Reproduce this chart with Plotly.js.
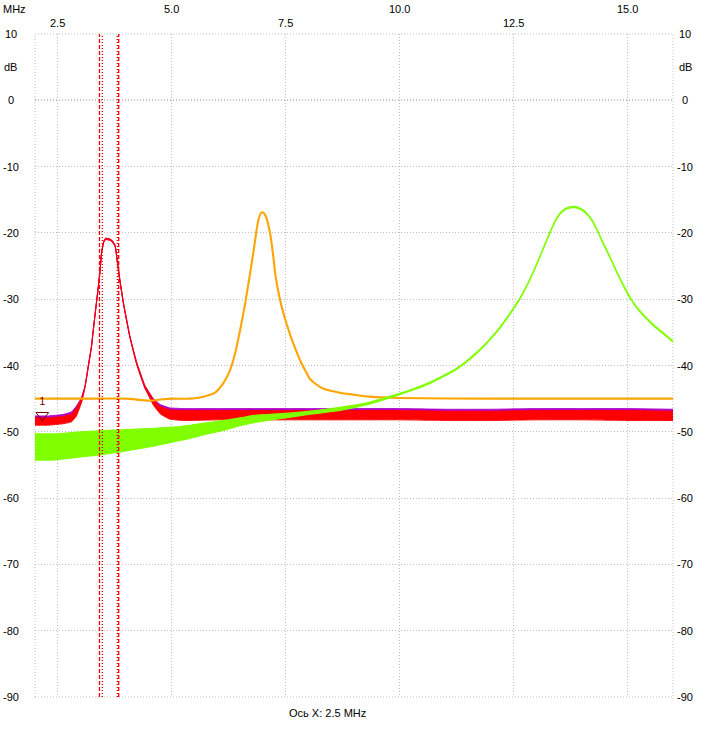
<!DOCTYPE html>
<html>
<head>
<meta charset="utf-8">
<script src="https://cdn.plot.ly/plotly-3.0.1.min.js"></script>
<style>html,body{margin:0;padding:0;background:#fff;}#chart{width:708px;height:732px;}</style>
</head>
<body>
<div id="chart"></div>
<script>
// ---- data ----
const xTicks = [2.5, 5.0, 7.5, 10.0, 12.5, 15.0];
const xTickLabels = ["2.5", "5.0", "7.5", "10.0", "12.5", "15.0"];
const yTicks = [10, 0, -10, -20, -30, -40, -50, -60, -70, -80, -90];
const yTickLabels = ["10", "0", "-10", "-20", "-30", "-40", "-50", "-60", "-70", "-80", "-90"];
const xUnit = "MHz";
const yUnit = "dB";
const xAxisNote = "Ось X: 2.5 MHz";

const redF  = [2.0,2.3,2.6,2.8,2.91,3.02,3.10,3.17,3.24,3.28,3.33,3.39,3.43,3.46,3.51,3.55,3.64,3.70,3.76,3.81,3.83,3.87,3.94,4.08,4.23,4.41,4.60,4.75,4.96,5.3,6,7,8,9,10,11,12,13,14,15,16];
const redHi = [-47.9,-47.9,-47.7,-47.3,-46.4,-44.9,-43.0,-40.0,-37.0,-34.5,-31.5,-28.0,-25.4,-22.9,-21.2,-20.8,-20.9,-21.2,-21.9,-24.4,-25.4,-27.4,-30.5,-35.5,-39.5,-43.0,-45.2,-46.2,-46.7,-46.8,-46.8,-46.8,-46.8,-46.8,-46.8,-46.9,-46.9,-46.8,-46.8,-46.8,-46.9];
const redLo = [-49.0,-49.0,-48.8,-48.5,-47.6,-45.6,-43.2,-40.2,-37.2,-34.7,-31.7,-28.2,-25.6,-23.1,-21.4,-21.0,-21.1,-21.4,-22.1,-24.6,-25.6,-27.6,-30.7,-35.7,-39.8,-43.4,-46.0,-47.3,-48.1,-48.3,-48.2,-48.2,-48.2,-48.2,-48.2,-48.3,-48.3,-48.2,-48.2,-48.3,-48.3];

const magHi = [-47.6,-47.6,-47.4,-47.0,-46.1,-44.9,-43.0,-40.0,-37.0,-34.5,-31.5,-28.0,-25.4,-22.9,-21.2,-20.8,-20.9,-21.2,-21.9,-24.4,-25.4,-27.4,-30.5,-35.5,-39.5,-43.0,-45.0,-45.9,-46.4,-46.5,-46.5,-46.5,-46.5,-46.5,-46.5,-46.6,-46.6,-46.5,-46.5,-46.5,-46.6];
const magLo = [-48.4,-48.4,-48.2,-47.9,-47.0,-45.5,-43.2,-40.2,-37.2,-34.7,-31.7,-28.2,-25.6,-23.1,-21.4,-21.0,-21.1,-21.4,-22.1,-24.6,-25.6,-27.6,-30.7,-35.7,-39.8,-43.4,-45.6,-46.8,-47.3,-47.4,-47.4,-47.4,-47.4,-47.4,-47.4,-47.5,-47.5,-47.4,-47.4,-47.5,-47.5];

const orangeF = [2.0,3.0,4.0,4.5,4.8,5.0,5.4,5.7,5.95,6.13,6.28,6.39,6.5,6.61,6.72,6.81,6.9,6.97,7.02,7.07,7.16,7.23,7.27,7.38,7.52,7.67,7.85,7.95,8.03,8.18,8.33,8.69,9.0,9.35,10.0,12.0,16.0];
const orangeY = [-45.0,-45.0,-45.0,-45.3,-45.1,-45.0,-45.0,-44.7,-44.1,-42.7,-40.7,-38.2,-34.7,-30.7,-26.1,-22.1,-18.1,-16.9,-17.0,-17.6,-20.1,-23.6,-26.1,-30.2,-33.7,-36.7,-39.7,-41.0,-42.0,-42.9,-43.5,-44.1,-44.4,-44.7,-44.9,-45.0,-45.0];

const greenF  = [2.0,2.5,3.0,3.5,3.9,4.5,5.18,5.4,5.8,6.13,6.5,6.83,7.5,8.0,8.69,9.35,10.0,10.3,10.67,10.96,11.25,11.47,11.69,11.91,12.13,12.35,12.5,12.64,12.79,12.94,13.01,13.12,13.23,13.34,13.45,13.56,13.67,13.85,14.0,14.11,14.22,14.33,14.47,14.62,14.76,14.91,15.06,15.2,15.38,15.57,15.78,16.0];
const greenHi = [-50.3,-50.3,-50.0,-49.8,-49.7,-49.5,-49.2,-49.0,-48.6,-48.3,-47.9,-47.5,-47.2,-46.9,-46.3,-45.5,-44.2,-43.5,-42.5,-41.5,-40.4,-39.3,-38.0,-36.5,-34.8,-32.8,-31.3,-29.8,-27.9,-25.7,-24.6,-22.8,-21.0,-19.2,-17.7,-16.7,-16.2,-16.0,-16.4,-17.0,-18.0,-19.4,-21.5,-23.6,-25.7,-27.8,-29.7,-31.1,-32.5,-33.8,-35.0,-36.3];
const greenLo = [-54.3,-54.2,-53.8,-53.4,-53.0,-52.3,-51.3,-51.0,-50.3,-49.8,-49.1,-48.6,-47.9,-47.4,-46.8,-45.8,-44.4,-43.7,-42.7,-41.7,-40.6,-39.5,-38.2,-36.7,-35.0,-33.0,-31.5,-30.0,-28.1,-25.9,-24.8,-23.0,-21.2,-19.4,-17.9,-16.9,-16.4,-16.2,-16.6,-17.2,-18.2,-19.6,-21.7,-23.8,-25.9,-28.0,-29.9,-31.3,-32.7,-34.0,-35.2,-36.5];

const cursorF = [3.415, 3.477, 3.806, 3.837];
const cursorDash = ["dash", "dot", "dot", "dash"];

const markerF = [2.16];
const markerY = [-47.5];
const markerLabel = ["1"];

// ---- drawing ----
const FONT = {family: "Liberation Sans, Arial, sans-serif", size: 11, color: "#000"};
const traces = [];
function band(x, hi, lo, color, w, sm) {
  traces.push({x: x, y: hi, mode: "lines", line: {color: color, width: w, shape: "spline", smoothing: sm}, hoverinfo: "skip", showlegend: false});
  traces.push({x: x, y: lo, mode: "lines", fill: "tonexty", fillcolor: color, line: {color: color, width: w, shape: "spline", smoothing: sm}, hoverinfo: "skip", showlegend: false});
}
band(redF, magHi, magLo, "#b000c8", 0.9, 0.3);
band(redF, redHi, redLo, "#ff0000", 0.9, 0.3);
traces.push({x: orangeF, y: orangeY, mode: "lines", line: {color: "#ffa500", width: 2.1, shape: "spline", smoothing: 0.6}, hoverinfo: "skip", showlegend: false});
band(greenF, greenHi, greenLo, "#80ff00", 1.1, 0.8);

cursorF.forEach(function (f, i) {
  const dashed = cursorDash[i] === "dash";
  traces.push({x: [f, f], y: [-90, 10], mode: "lines",
    line: {color: dashed ? "#ff0000" : "#d00000", width: 1.3, dash: dashed ? "4px,2px" : "1px,2px"},
    hoverinfo: "skip", showlegend: false});
});

traces.push({x: markerF, y: markerY, mode: "markers+text", text: markerLabel, textposition: "top center",
  textfont: {family: FONT.family, size: 11, color: "#700000"},
  marker: {symbol: "triangle-down-open", size: 11, color: "#700000", line: {width: 1, color: "#700000"}},
  hoverinfo: "skip", showlegend: false});

const annotations = [];
xTicks.forEach(function (v, i) {
  annotations.push({x: v, xref: "x", y: 1, yref: "paper", text: xTickLabels[i], showarrow: false,
    xanchor: "center", yanchor: "middle", yshift: (i % 2 === 0) ? 11 : 25, font: FONT});
});
yTicks.forEach(function (v, i) {
  annotations.push({x: 0, xref: "paper", y: v, yref: "y", text: yTickLabels[i], showarrow: false,
    xanchor: "center", yanchor: "middle", xshift: -24, font: FONT});
  annotations.push({x: 1, xref: "paper", y: v, yref: "y", text: yTickLabels[i], showarrow: false,
    xanchor: "center", yanchor: "middle", xshift: 12, font: FONT});
});
annotations.push({x: 0, xref: "paper", y: 5, yref: "y", text: yUnit, showarrow: false, xanchor: "center", yanchor: "middle", xshift: -25, font: FONT});
annotations.push({x: 1, xref: "paper", y: 5, yref: "y", text: yUnit, showarrow: false, xanchor: "center", yanchor: "middle", xshift: 12, font: FONT});
annotations.push({x: 0, xref: "paper", y: 1, yref: "paper", text: xUnit, showarrow: false, xanchor: "center", yanchor: "middle", xshift: -21, yshift: 25, font: FONT});
annotations.push({x: 0.4577, xref: "paper", y: 0, yref: "paper", text: xAxisNote, showarrow: false, xanchor: "center", yanchor: "middle", yshift: -16, font: FONT});

const layout = {
  width: 708, height: 732,
  margin: {l: 35, r: 35, t: 34, b: 35, pad: 0},
  paper_bgcolor: "#fff", plot_bgcolor: "#fff",
  showlegend: false,
  xaxis: {range: [2.0, 16.0], tickvals: xTicks, showticklabels: false, ticks: "", showgrid: true,
    gridcolor: "#bdbdbd", griddash: "1px,2px", gridwidth: 1, zeroline: false, showline: false, fixedrange: true},
  yaxis: {range: [-90, 10], tickvals: yTicks, showticklabels: false, ticks: "", showgrid: true,
    gridcolor: "#bdbdbd", griddash: "1px,2px", gridwidth: 1, zeroline: false, showline: false, fixedrange: true},
  shapes: [
    {type: "rect", xref: "paper", yref: "paper", x0: 0, x1: 1, y0: 0, y1: 1, layer: "below",
      line: {color: "#bdbdbd", width: 1, dash: "1px,2px"}},
    {type: "line", xref: "paper", yref: "y", x0: 0, x1: 1, y0: 0, y1: 0, layer: "below",
      line: {color: "#000", width: 1, dash: "1px,2px"}}
  ],
  annotations: annotations
};

Plotly.newPlot("chart", traces, layout, {staticPlot: true, displayModeBar: false});
</script>
</body>
</html>
